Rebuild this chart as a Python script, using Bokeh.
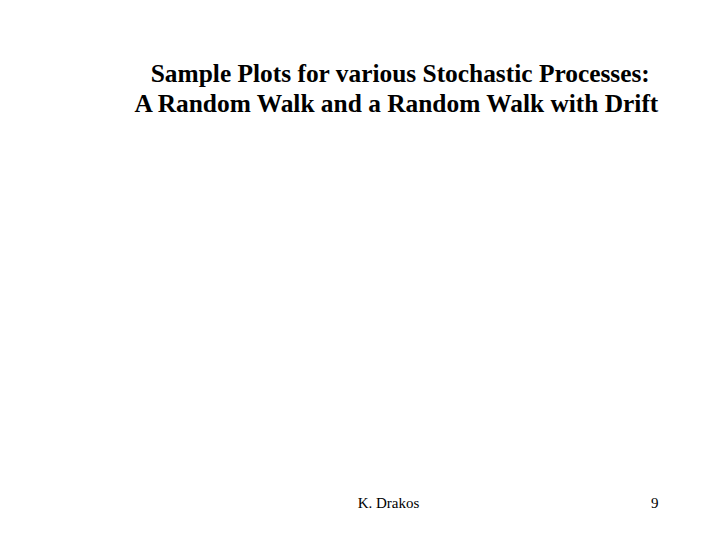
from bokeh.plotting import figure
from bokeh.models import Range1d
from bokeh.core.properties import value
from bokeh.embed import file_html
from bokeh.resources import INLINE

title_lines = ["Sample Plots for various Stochastic Processes:",
               "A Random Walk and a Random Walk with Drift"]
footer_author = "K. Drakos"
footer_page = "9"

# page coordinates: x to the right, y downward, in pixels
p = figure(width=704, height=524, output_backend="svg", toolbar_location=None,
           x_range=Range1d(0, 704), y_range=Range1d(524, 0),
           min_border=0, outline_line_color=None)
p.axis.visible = False
p.grid.visible = False
p.background_fill_color = "white"

p.text(x=[400, 397], y=[72, 102], text=title_lines,
       text_font=value("Liberation Serif"), text_font_style="bold",
       text_font_size="25.4px", text_align="center", text_baseline="alphabetic",
       text_color="black")

p.text(x=[388], y=[502], text=[footer_author],
       text_font=value("Liberation Serif"), text_font_size="15px",
       text_align="center", text_baseline="alphabetic", text_color="black")
p.text(x=[658], y=[502], text=[footer_page],
       text_font=value("Liberation Serif"), text_font_size="15px",
       text_align="right", text_baseline="alphabetic", text_color="black")

open("out.html", "w").write(file_html(p, INLINE))
